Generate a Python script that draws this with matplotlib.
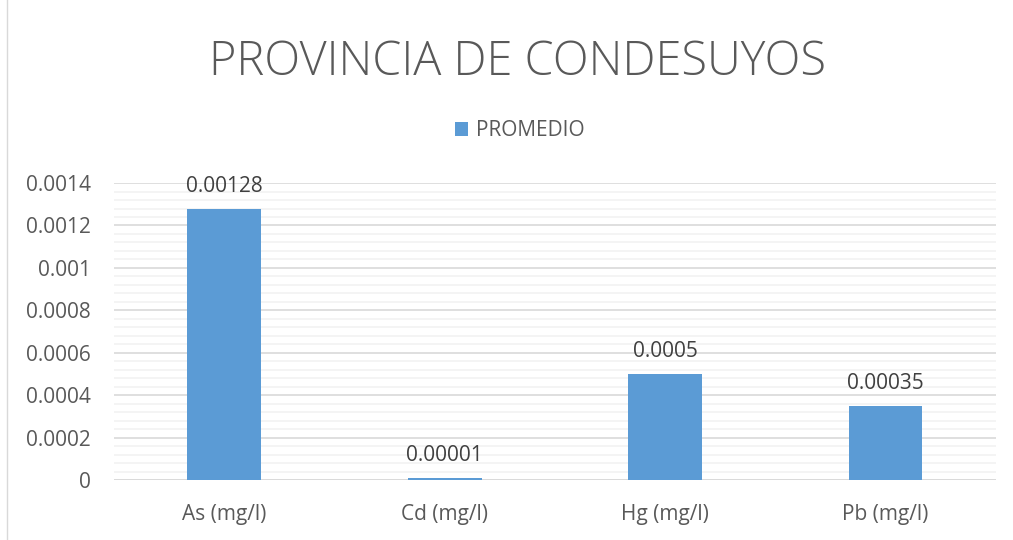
import matplotlib
matplotlib.use("Agg")
import matplotlib.pyplot as plt
from matplotlib.ticker import MultipleLocator
from matplotlib.patches import Rectangle

categories = ["As (mg/l)", "Cd (mg/l)", "Hg (mg/l)", "Pb (mg/l)"]
values = [0.00128, 0.00001, 0.0005, 0.00035]
labels = ["0.00128", "0.00001", "0.0005", "0.00035"]
yticks = [0, 0.0002, 0.0004, 0.0006, 0.0008, 0.001, 0.0012, 0.0014]
yticklabels = ["0", "0.0002", "0.0004", "0.0006", "0.0008", "0.001", "0.0012", "0.0014"]

plt.rcParams['font.family'] = ['Open Sans', 'DejaVu Sans']
txt = "#595959"
bar_color = "#5B9BD5"

fig = plt.figure(figsize=(10.13, 5.4), dpi=100)
fig.patches.append(Rectangle((0.007, -0.01), 1.5, 1.5, transform=fig.transFigure,
                             fill=False, edgecolor="#D9D9D9", linewidth=1))
ax = fig.add_axes([0.1125, 0.111, 0.8705, 0.55])

x = range(len(categories))
bars = ax.bar(x, values, width=0.335, color=bar_color, zorder=3, label="PROMEDIO")
for xi, v, l in zip(x, values, labels):
    ax.annotate(l, (xi, v), xytext=(0, 8.5), textcoords="offset points",
                ha="center", va="bottom", fontsize=15, color="#404040")

ax.set_xlim(-0.5, len(categories) - 0.5)
ax.set_ylim(0, 0.0014)
ax.set_yticks(yticks)
ax.set_yticklabels(yticklabels)
ax.yaxis.set_minor_locator(MultipleLocator(0.00004))
ax.set_xticks(list(x))
ax.set_xticklabels(categories)
ax.tick_params(axis="both", which="both", length=0, colors=txt, labelsize=15)
ax.tick_params(axis="x", pad=17)
ax.tick_params(axis="y", pad=16.5)
ax.grid(axis="y", which="major", color="#D9D9D9", linewidth=1.2, zorder=0)
ax.grid(axis="y", which="minor", color="#F2F2F2", linewidth=1.2, zorder=0)
for s in ax.spines.values():
    s.set_visible(False)
ax.axhline(0, color="#D9D9D9", linewidth=1.2, zorder=2)

fig.text(0.5105, 0.884, "PROVINCIA DE CONDESUYOS", ha="center", va="center",
         fontsize=33.7, color=txt, fontweight="light")
fig.legend(handles=[bars], labels=["PROMEDIO"], loc="center", bbox_to_anchor=(0.513, 0.758),
           frameon=False, fontsize=15, labelcolor=txt, handlelength=0.65, handleheight=0.65,
           handletextpad=0.35)

fig.savefig("out.png", dpi=100)
